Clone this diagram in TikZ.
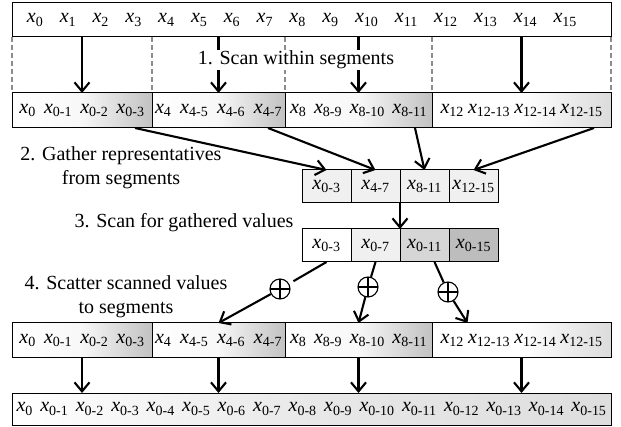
\documentclass[tikz,border=0pt]{standalone}
\usepackage{fontspec}
\setmainfont{Liberation Serif}
\usetikzlibrary{arrows.meta,positioning,calc}
\newcommand{\xv}[1]{\textit{x}\textsubscript{#1}}

\begin{document}
\begin{tikzpicture}[
  x=1pt, y=-1pt,
  >={Straight Barb[length=9pt,width=15pt]},
  every node/.style={font=\fontsize{20}{24}\selectfont},
  box/.style={draw, line width=1pt, outer sep=0pt, inner xsep=0pt, inner ysep=0pt},
  seg/.style={box, minimum height=35pt, align=center,
     left color=white, right color=black!24, middle color=black!3},
  cell/.style={box, minimum height=33pt, minimum width=49pt},
  arr/.style={->, line width=2.1pt},
  lnk/.style={line width=2.1pt},
  sep/.style={draw=black!45, line width=1.3pt, dash pattern=on 5pt off 3pt},
  lbl/.style={align=center, inner sep=1pt},
  plus/.style={circle, draw, line width=1.1pt, minimum size=20pt, inner sep=0pt,
     path picture={\draw[line width=1.1pt]
       (path picture bounding box.north) -- (path picture bounding box.south)
       (path picture bounding box.west) -- (path picture bounding box.east);}},
]
\useasboundingbox (0,0) rectangle (621,427);
% --- input ---
\node[box, minimum width=599pt, minimum height=34pt] (inp) at (311.5,20) {};
\node[text width=550pt, align=center, inner sep=0pt] (inpx) at (302,20)
  {\xv{0}\foreach \i in {1,...,15}{\hfill\xv{\i}}};
% --- segments after step 1 ---
\node[seg, minimum width=140pt, text width=125pt] (s1) at (82,110.5)
  {\xv{0}\hfill\xv{0-1}\hfill\xv{0-2}\hfill\xv{0-3}};
\node[seg, minimum width=133pt, text width=127pt] (s2) at (218.5,110.5)
  {\xv{4}\hfill\xv{4-5}\hfill\xv{4-6}\hfill\xv{4-7}};
\node[seg, minimum width=147pt, text width=137pt] (s3) at (358.5,110.5)
  {\xv{8}\hfill\xv{8-9}\hfill\xv{8-10}\hfill\xv{8-11}};
\node[seg, minimum width=179pt, text width=162pt, right color=black!14, middle color=white] (s4) at (521.5,110.5)
  {\xv{12}\hfill\xv{12-13}\hfill\xv{12-14}\hfill\xv{12-15}};
% --- gathered values ---
\node[cell, fill=black!6] (g1) at (326.5,186.5) {\xv{0-3}};
\node[cell, fill=black!6] (g2) at (375.5,186.5) {\xv{4-7}};
\node[cell, fill=black!6] (g3) at (424.5,186.5) {\xv{8-11}};
\node[cell, fill=black!6] (g4) at (473.5,186.5) {\xv{12-15}};
% --- scanned values ---
\node[cell, fill=white]    (c1) at (326.5,245.5) {\xv{0-3}};
\node[cell, fill=black!6]  (c2) at (375.5,245.5) {\xv{0-7}};
\node[cell, fill=black!16] (c3) at (424.5,245.5) {\xv{0-11}};
\node[cell, fill=black!26] (c4) at (473.5,245.5) {\xv{0-15}};
% --- adders ---
\node[plus] (p1) at (280,289) {};
\node[plus] (p2) at (368,287) {};
\node[plus] (p3) at (448,292) {};
% --- segments after step 4 ---
\node[seg, minimum width=140pt, text width=125pt] (t1) at (82,340.5)
  {\xv{0}\hfill\xv{0-1}\hfill\xv{0-2}\hfill\xv{0-3}};
\node[seg, minimum width=133pt, text width=127pt] (t2) at (218.5,340.5)
  {\xv{4}\hfill\xv{4-5}\hfill\xv{4-6}\hfill\xv{4-7}};
\node[seg, minimum width=147pt, text width=137pt] (t3) at (358.5,340.5)
  {\xv{8}\hfill\xv{8-9}\hfill\xv{8-10}\hfill\xv{8-11}};
\node[seg, minimum width=179pt, text width=162pt, right color=black!14, middle color=white] (t4) at (521.5,340.5)
  {\xv{12}\hfill\xv{12-13}\hfill\xv{12-14}\hfill\xv{12-15}};
% --- output ---
\node[box, minimum width=599pt, minimum height=32pt, text width=590pt, align=center,
  left color=white, right color=black!13, middle color=black!9] (out) at (311.5,409)
  {\xv{0}\foreach \i in {1,...,15}{\hfill\xv{0-\i}}};
% --- step 1 ---
\foreach \s in {s1,s2,s3,s4}
  \draw[sep] (\s.north west |- inp.south) -- (\s.north west);
\draw[sep] (s4.north east |- inp.south) -- (s4.north east);
\foreach \s in {s1,s2,s3,s4}
  \draw[arr] (\s.north |- inp.south) -- (\s.north);
\node[lbl, fill=white] (l1) at (296,60) {1. Scan within segments};
% --- step 2 ---
\foreach \s/\g in {s1/g1,s2/g2,s3/g3,s4/g4}
  \draw[arr] ([xshift=-17pt]\s.south east) -- (\g.north);
\node[lbl] (l2) at (121,168) {2. Gather representatives\\from segments};
% --- step 3 ---
\draw[arr] (g2.south east) -- (c2.north east);
\node[lbl] (l3) at (184,223) {3. Scan for gathered values};
% --- step 4 ---
\draw[lnk, shorten >=5pt] (c1.south) -- (p1);
\draw[lnk] (c2.south) -- (p2);
\draw[lnk] ([xshift=10pt]c3.south) -- (p3);
\draw[arr] (p1) -- (t2.north);
\draw[arr] (p2) -- (t3.north);
\draw[arr] (p3) -- ([xshift=-54pt]t4.north);
\node[lbl] (l4) at (126,297) {4. Scatter scanned values\\to segments};
% --- final ---
\foreach \t in {t1,t2,t3,t4}
  \draw[arr] (\t.south) -- (\t.south |- out.north);
\end{tikzpicture}
\end{document}
